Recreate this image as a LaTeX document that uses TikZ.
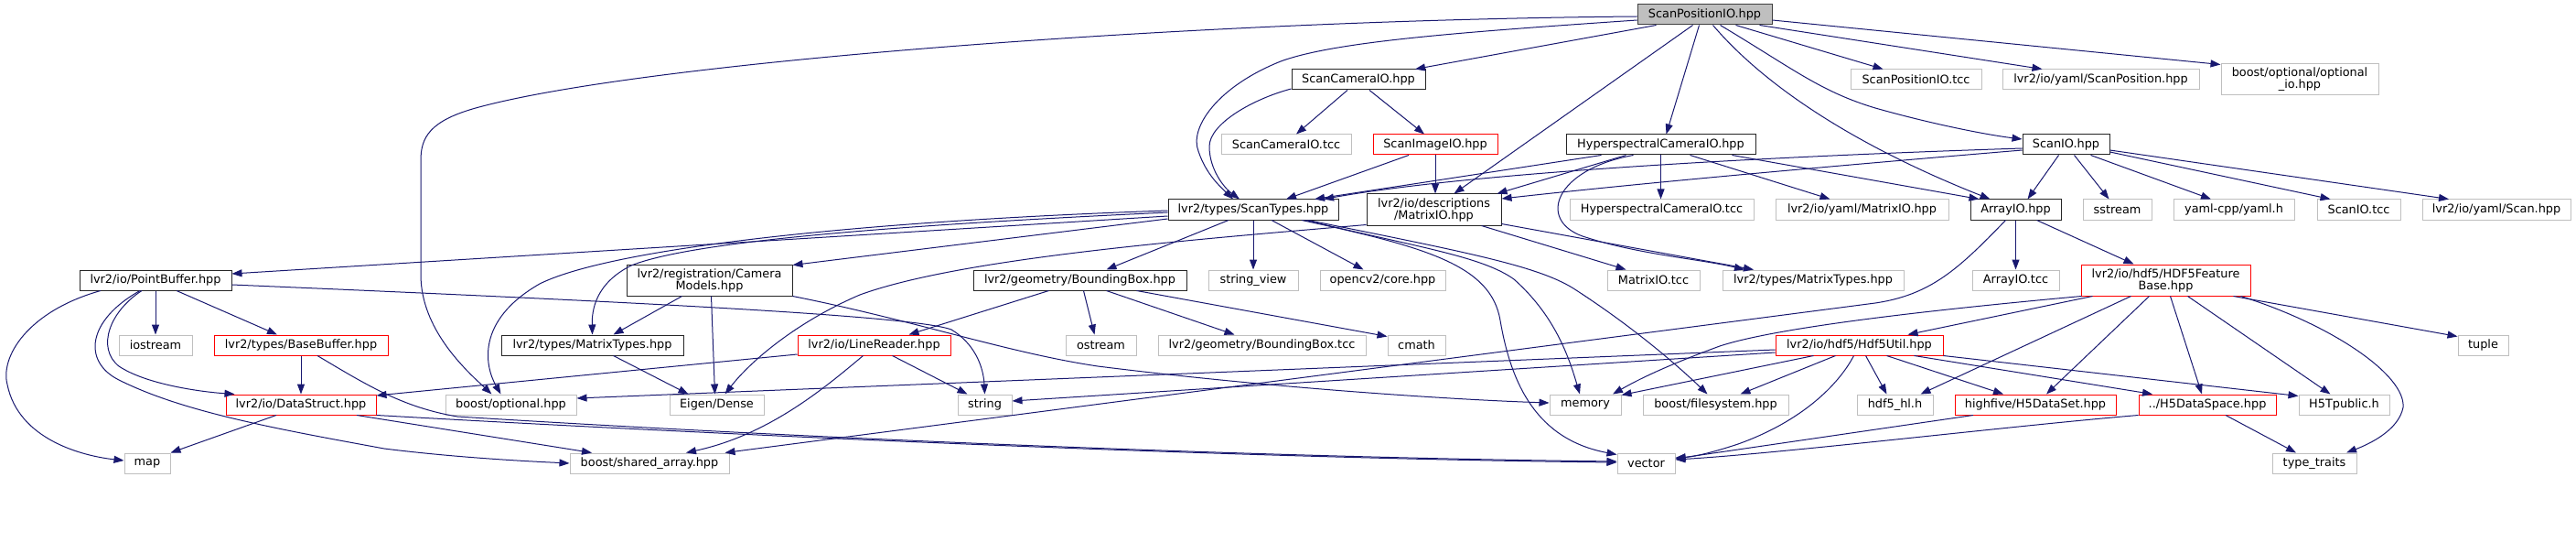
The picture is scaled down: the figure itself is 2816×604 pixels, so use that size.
\documentclass[tikz,border=0pt]{standalone}
\usepackage{fontspec}
\setmainfont{DejaVu Sans}
\usetikzlibrary{arrows.meta}
\definecolor{edgeblue}{HTML}{191970}
\definecolor{grayline}{HTML}{BFBFBF}
\definecolor{rootfill}{HTML}{BFBFBF}
\definecolor{redline}{HTML}{FF0000}
\tikzset{
  nbase/.style={rectangle, draw, line width=1pt, inner xsep=1pt, inner ysep=0pt, minimum height=22pt, text=black, font=\fontsize{12.85}{13}\selectfont, align=center},
  nb/.style={nbase, draw=black!85},
  ng/.style={nbase, draw=grayline},
  nr/.style={nbase, draw=redline},
  nroot/.style={nbase, draw=black!75, fill=rootfill},
  edge/.style={draw=edgeblue, line width=1pt, -{Triangle[length=11pt,width=8pt]}, fill=none}
}
\begin{document}
\begin{tikzpicture}[x=1pt,y=-1pt]
\useasboundingbox[fill=white] (0,0) rectangle (2816,604);
% row 0
\node[nroot, minimum width=147pt] (sp) at (1863.5,16) {ScanPositionIO.hpp};
% row 1
\node[nb, minimum width=146pt] (sc) at (1485,87) {ScanCameraIO.hpp};
\node[ng, minimum width=143pt] (sptcc) at (2094.5,87) {ScanPositionIO.tcc};
\node[ng, minimum width=215pt] (yscanpos) at (2296.5,87) {lvr2/io/yaml/ScanPosition.hpp};
\node[ng, minimum width=172pt, minimum height=34pt] (optio) at (2514,87) {boost/optional/optional\\\_io.hpp};
% row 2
\node[ng, minimum width=142pt] (sctcc) at (1406,158) {ScanCameraIO.tcc};
\node[nr, minimum width=136pt] (si) at (1569,158) {ScanImageIO.hpp};
\node[nb, minimum width=207pt] (hc) at (1815.5,158) {HyperspectralCameraIO.hpp};
\node[nb, minimum width=95pt] (sio) at (2258.5,158) {ScanIO.hpp};
% row 3
\node[nb, minimum width=186pt] (st) at (1370,229) {lvr2/types/ScanTypes.hpp};
\node[nb, minimum width=147pt, minimum height=34pt] (mi) at (1567.5,229) {lvr2/io/descriptions\\/MatrixIO.hpp};
\node[ng, minimum width=201pt] (hctcc) at (1816.5,229) {HyperspectralCameraIO.tcc};
\node[ng, minimum width=189pt] (ymi) at (2035.5,229) {lvr2/io/yaml/MatrixIO.hpp};
\node[nb, minimum width=99pt] (ai) at (2203.5,229) {ArrayIO.hpp};
\node[ng, minimum width=75pt] (sstream) at (2314.5,229) {sstream};
\node[ng, minimum width=132pt] (yaml) at (2442,229) {yaml-cpp/yaml.h};
\node[ng, minimum width=91pt] (siotcc) at (2578.5,229) {ScanIO.tcc};
\node[ng, minimum width=162pt] (yscan) at (2729,229) {lvr2/io/yaml/Scan.hpp};
% row 4
\node[nb, minimum width=166pt] (pb) at (170,306) {lvr2/io/PointBuffer.hpp};
\node[nb, minimum width=181pt, minimum height=34pt] (cm) at (775.5,306) {lvr2/registration/Camera\\Models.hpp};
\node[nb, minimum width=233pt] (bbox) at (1180.5,306) {lvr2/geometry/BoundingBox.hpp};
\node[ng, minimum width=98pt] (sv) at (1370,306) {string\_view};
\node[ng, minimum width=137pt] (ocv) at (1511.5,306) {opencv2/core.hpp};
\node[ng, minimum width=101pt] (mitcc) at (1807.5,306) {MatrixIO.tcc};
\node[ng, minimum width=198pt] (mtg) at (1982,306) {lvr2/types/MatrixTypes.hpp};
\node[ng, minimum width=95pt] (aitcc) at (2203.5,306) {ArrayIO.tcc};
\node[nr, minimum width=185pt, minimum height=34pt] (hf) at (2367.5,306) {lvr2/io/hdf5/HDF5Feature\\Base.hpp};
% row 5
\node[ng, minimum width=80pt] (iostream) at (170,377) {iostream};
\node[nr, minimum width=190pt] (bb) at (329,377) {lvr2/types/BaseBuffer.hpp};
\node[nb, minimum width=199pt] (mt) at (647.5,377) {lvr2/types/MatrixTypes.hpp};
\node[nr, minimum width=167pt] (lr) at (955.5,377) {lvr2/io/LineReader.hpp};
\node[ng, minimum width=77pt] (ostream) at (1203.5,377) {ostream};
\node[ng, minimum width=227pt] (bbtcc) at (1379.5,377) {lvr2/geometry/BoundingBox.tcc};
\node[ng, minimum width=63pt] (cmath) at (1548.5,377) {cmath};
\node[nr, minimum width=183pt] (hu) at (2032.5,377) {lvr2/io/hdf5/Hdf5Util.hpp};
\node[ng, minimum width=55pt] (tuple) at (2714.5,377) {tuple};
% row 6
\node[nr, minimum width=164pt] (ds) at (329,442) {lvr2/io/DataStruct.hpp};
\node[ng, minimum width=143pt] (bopt) at (558.5,442) {boost/optional.hpp};
\node[ng, minimum width=103pt] (eigen) at (783.5,442) {Eigen/Dense};
\node[ng, minimum width=59pt] (string) at (1076.5,442) {string};
\node[ng, minimum width=78pt] (memory) at (1733,442) {memory};
\node[ng, minimum width=159pt] (bfs) at (1875.5,442) {boost/filesystem.hpp};
\node[ng, minimum width=83pt] (hdf5hl) at (2071.5,442) {hdf5\_hl.h};
\node[nr, minimum width=176pt] (h5ds) at (2225,442) {highfive/H5DataSet.hpp};
\node[nr, minimum width=150pt] (h5sp) at (2413,442) {../H5DataSpace.hpp};
\node[ng, minimum width=99pt] (h5t) at (2562.5,442) {H5Tpublic.h};
% row 7
\node[ng, minimum width=50pt] (map) at (161,506) {map};
\node[ng, minimum width=174pt] (bsa) at (710,506) {boost/shared\_array.hpp};
\node[ng, minimum width=63pt] (vector) at (1799.5,506) {vector};
\node[ng, minimum width=92pt] (tt) at (2530,506) {type\_traits};

% ---- edges from ScanPositionIO.hpp
\draw[edge] ([xshift=-53pt]sp.south) -- ([xshift=62pt]sc.north);
\draw[edge] ([yshift=-6pt]sp.west) .. controls (1600,35) and (1460,45) .. (1400,67) .. controls (1330,95) and (1300,140) .. (1310,165) .. controls (1318,190) and (1335,205) .. ([xshift=-22pt]st.north);
\draw[edge] ([yshift=-2pt]sp.west) .. controls (1300,22) and (700,68) .. (520,118) .. controls (470,132) and (460,150) .. (460,175) -- (460,300) .. controls (460,360) and (510,405) .. ([xshift=-21pt]bopt.north);
\draw[edge] ([xshift=-13pt]sp.south) -- ([xshift=22pt]mi.north);
\draw[edge] ([xshift=-6pt]sp.south) -- ([xshift=6pt]hc.north);
\draw[edge] ([xshift=9pt]sp.south) .. controls (1930,95) and (2030,160) .. ([xshift=-28pt]ai.north);
\draw[edge] ([xshift=17pt]sp.south) .. controls (1960,75) and (1990,100) .. (2050,118) .. controls (2110,135) and (2170,147) .. ([yshift=6pt]sio.west);
\draw[edge] ([xshift=34pt]sp.south) -- ([xshift=-36pt]sptcc.north);
\draw[edge] ([xshift=60pt]sp.south) -- ([xshift=-64pt]yscanpos.north);
\draw[edge] ([yshift=-6pt]sp.east) -- ([yshift=-1pt]optio.north west);
% ---- ScanCameraIO
\draw[edge] ([yshift=-10pt]sc.west) .. controls (1370,108) and (1322,135) .. (1322,160) .. controls (1322,185) and (1338,205) .. ([xshift=-15pt]st.north);
\draw[edge] ([xshift=-12pt]sc.south) -- ([xshift=11pt]sctcc.north);
\draw[edge] ([xshift=12pt]sc.south) -- ([xshift=-12pt]si.north);
% ---- ScanImageIO
\draw[edge] ([xshift=-29pt]si.south) -- ([xshift=36pt]st.north);
\draw[edge] (si.south) -- (si.south |- mi.north);
% ---- HyperspectralCameraIO
\draw[edge] ([xshift=-65pt]hc.south) -- ([xshift=67pt]st.north);
\draw[edge] ([xshift=-38pt]hc.south) -- ([xshift=-5pt]mi.north east);
\draw[edge] (hc.south) -- (hc.south |- hctcc.north);
\draw[edge] ([xshift=-30pt]hc.south) .. controls (1700,185) and (1680,240) .. (1730,258) .. controls (1790,278) and (1860,283) .. ([xshift=-75pt]mtg.north);
\draw[edge] ([xshift=32pt]hc.south) -- ([xshift=-35pt]ymi.north);
\draw[edge] ([xshift=78pt]hc.south) -- ([xshift=-40pt]ai.north);
% ---- ScanIO
\draw[edge] ([yshift=-4pt]sio.west) .. controls (1900,172) and (1600,190) .. ([xshift=77pt]st.north);
\draw[edge] ([yshift=-6pt]sio.west) .. controls (1900,190) and (1750,205) .. ([yshift=12pt]mi.east);
\draw[edge] ([xshift=-8pt]sio.south) -- ([xshift=13pt]ai.north);
\draw[edge] ([xshift=9pt]sio.south) -- ([xshift=-9pt]sstream.north);
\draw[edge] ([xshift=27pt]sio.south) -- ([xshift=-25pt]yaml.north);
\draw[edge] ([yshift=-8pt]sio.east) -- ([xshift=-31pt]siotcc.north);
\draw[edge] ([yshift=-6pt]sio.east) -- ([xshift=-52pt]yscan.north);
% ---- ArrayIO
\draw[edge] (ai.south) -- (aitcc.north);
\draw[edge] ([xshift=23pt]ai.south) -- ([xshift=-35pt]hf.north);
\draw[edge] ([xshift=-11pt]ai.south) .. controls (2140,295) and (2110,322) .. (2050,331) -- ([xshift=-5pt]bsa.north east);
% ---- MatrixIO (descriptions)
\draw[edge] ([xshift=52pt]mi.south) -- ([xshift=-30pt]mitcc.north);
\draw[edge] ([yshift=2pt]mi.south east) -- ([xshift=-65pt]mtg.north);
\draw[edge] ([yshift=1pt]mi.south west) .. controls (1300,262) and (1050,282) .. (940,322) .. controls (870,352) and (820,395) .. ([xshift=9pt]eigen.north);
% ---- ScanTypes
\draw[edge] ([yshift=-7pt]st.west) -- ([yshift=7pt]pb.east);
\draw[edge] ([yshift=-10pt]st.west) -- ([yshift=-1pt]cm.north east);
\draw[edge] ([yshift=-3pt]st.west) .. controls (1000,245) and (760,262) .. (690,290) .. controls (650,310) and (647,340) .. (mt.north);
\draw[edge] ([yshift=-1pt]st.west) .. controls (900,243) and (660,275) .. (590,310) .. controls (520,350) and (530,400) .. ([xshift=-11pt]bopt.north);
\draw[edge] ([xshift=-27pt]st.south) -- ([xshift=29pt]bbox.north);
\draw[edge] (st.south) -- (sv.north);
\draw[edge] ([xshift=20pt]st.south) -- ([xshift=-21pt]ocv.north);
\draw[edge] ([xshift=57pt]st.south) .. controls (1550,270) and (1620,280) .. (1655,305) .. controls (1700,345) and (1715,390) .. ([xshift=-6pt]memory.north);
\draw[edge] ([xshift=60pt]st.south) .. controls (1600,275) and (1680,290) .. (1720,315) .. controls (1790,360) and (1840,405) .. ([xshift=-9pt]bfs.north);
\draw[edge] ([xshift=53pt]st.south) .. controls (1560,270) and (1630,290) .. (1640,350) .. controls (1652,420) and (1680,480) .. ([yshift=-2pt]vector.north west);
% ---- PointBuffer
\draw[edge] (pb.south) -- (iostream.north);
\draw[edge] ([xshift=23pt]pb.south) -- ([xshift=-26pt]bb.north);
\draw[edge] ([xshift=-15pt]pb.south) .. controls (120,340) and (105,380) .. (130,400) .. controls (160,420) and (220,428) .. ([xshift=10pt]ds.north west);
\draw[edge] ([xshift=-60pt]pb.south) .. controls (30,340) and (0,390) .. (8,420) .. controls (20,480) and (90,498) .. ([yshift=3pt]map.west);
\draw[edge] ([xshift=-17pt]pb.south) .. controls (95,350) and (90,395) .. (130,415) .. controls (200,450) and (300,468) .. (420,490) .. controls (500,500) and (580,504) .. (bsa.west);
\draw[edge] ([yshift=-5pt]pb.east) .. controls (700,330) and (1000,345) .. (1040,360) .. controls (1065,375) and (1075,400) .. (string.north);
% ---- BaseBuffer
\draw[edge] (bb.south) -- (ds.north);
\draw[edge] ([xshift=18pt]bb.south) .. controls (400,420) and (440,445) .. (500,455) .. controls (900,480) and (1400,500) .. ([yshift=2pt]vector.west);
% ---- DataStruct
\draw[edge] ([xshift=-27pt]ds.south) -- (map.north east);
\draw[edge] ([xshift=61pt]ds.south) -- ([xshift=-63pt]bsa.north);
\draw[edge] (ds.south east) .. controls (700,470) and (1300,500) .. ([yshift=1pt]vector.west);
% ---- LineReader
\draw[edge] ([yshift=-10pt]lr.west) -- ([yshift=10pt]ds.east);
\draw[edge] ([xshift=-12pt]lr.south) .. controls (900,425) and (840,475) .. ([xshift=40pt]bsa.north);
\draw[edge] ([xshift=20pt]lr.south) -- ([xshift=-19pt]string.north);
% ---- CameraModels
\draw[edge] ([xshift=-30pt]cm.south) -- ([xshift=23pt]mt.north);
\draw[edge] ([xshift=2pt]cm.south) -- ([xshift=-2pt]eigen.north);
\draw[edge] (cm.south east) .. controls (1000,350) and (1100,385) .. (1200,400) .. controls (1400,425) and (1600,437) .. ([yshift=2pt]memory.west);
% ---- MatrixTypes
\draw[edge] ([xshift=23pt]mt.south) -- ([xshift=-31pt]eigen.north);
% ---- BoundingBox
\draw[edge] ([xshift=-34pt]bbox.south) -- ([xshift=38pt]lr.north);
\draw[edge] ([xshift=4pt]bbox.south) -- ([xshift=-7pt]ostream.north);
\draw[edge] ([xshift=29pt]bbox.south) -- ([xshift=-30pt]bbtcc.north);
\draw[edge] ([xshift=62pt]bbox.south) -- ([yshift=-2pt]cmath.north west);
% ---- Hdf5Util
\draw[edge] ([yshift=-5pt]hu.west) -- ([yshift=7pt]bopt.east);
\draw[edge] ([yshift=-8pt]hu.west) -- ([yshift=4pt]string.east);
\draw[edge] ([xshift=-50pt]hu.south) -- ([yshift=-1pt]memory.north east);
\draw[edge] ([xshift=-26pt]hu.south) -- ([xshift=27pt]bfs.north);
\draw[edge] ([xshift=-6pt]hu.south) .. controls (2010,420) and (1970,460) .. (1900,485) .. controls (1870,495) and (1850,499) .. ([yshift=6pt]vector.east);
\draw[edge] ([xshift=7pt]hu.south) -- ([xshift=-9pt]hdf5hl.north);
\draw[edge] ([xshift=30pt]hu.south) -- ([xshift=-35pt]h5ds.north);
\draw[edge] ([xshift=60pt]hu.south) -- ([xshift=-60pt]h5sp.north);
\draw[edge] (hu.south east) -- ([yshift=-2pt]h5t.north west);
% ---- HDF5FeatureBase
\draw[edge] ([xshift=-80pt]hf.south) -- ([xshift=53pt]hu.north);
\draw[edge] ([xshift=-92pt]hf.south) .. controls (2150,335) and (1950,355) .. (1880,378) .. controls (1820,400) and (1790,415) .. ([xshift=30pt]memory.north);
\draw[edge] ([xshift=-38pt]hf.south) -- ([xshift=28pt]hdf5hl.north);
\draw[edge] ([xshift=-18pt]hf.south) -- ([xshift=12pt]h5ds.north);
\draw[edge] ([xshift=5pt]hf.south) -- ([xshift=-6pt]h5sp.north);
\draw[edge] ([xshift=24pt]hf.south) -- ([xshift=-15pt]h5t.north);
\draw[edge] ([xshift=74pt]hf.south) -- ([yshift=-2pt]tuple.north west);
\draw[edge] ([xshift=82pt]hf.south) .. controls (2550,355) and (2630,410) .. (2627,445) .. controls (2622,470) and (2590,485) .. ([xshift=35pt]tt.north);
% ---- H5DataSet / H5DataSpace
\draw[edge] ([xshift=-68pt]h5ds.south) -- ([yshift=5pt]vector.east);
\draw[edge] (h5sp.south west) .. controls (2200,465) and (1950,495) .. ([yshift=4pt]vector.east);
\draw[edge] ([xshift=20pt]h5sp.south) -- ([xshift=-20pt]tt.north);
\end{tikzpicture}
\end{document}
